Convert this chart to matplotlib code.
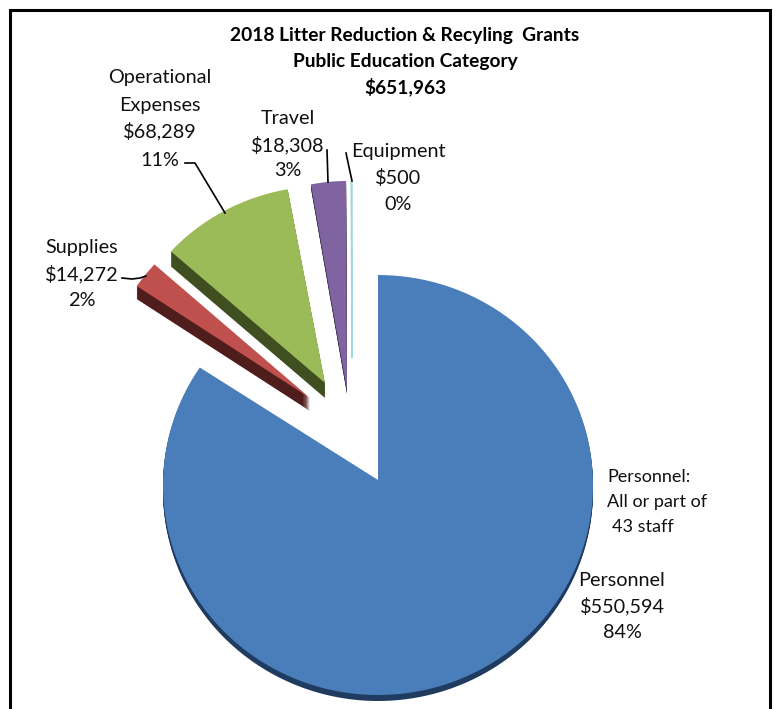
import numpy as np
import matplotlib
matplotlib.use('Agg')
import matplotlib.pyplot as plt

plt.rcParams['font.family'] = ['Lato', 'DejaVu Sans']

categories = ['Personnel', 'Supplies', 'Operational Expenses', 'Travel', 'Equipment']
amounts = [550594, 14272, 68289, 18308, 500]

colors = ['#4a7ebb', '#c0504d', '#9bbb59', '#8064a2', '#9fd6e4']
dark = ['#1f3c60', '#4f1d1b', '#3f4f20', '#3a2d4a', '#7fb5c5']

# apex of each slice in image pixels, and its x / y radius
apex = [(378, 480), (310, 398), (325, 383), (347, 390), (352, 358)]
radius = [(215, 210), (209, 200), (207, 197), (200, 209), (177, 177)]
arc_drop = [5, 0, 0, 0, 0]
depth = [6, 13, 15, 4, 0]
edge_width = [0, 0, 0, 0, 1.0]


def slice_outline(center, rad, start, stop, drop=0, shift=0):
    t = np.radians(np.linspace(start, stop, 200))
    xs = np.r_[center[0], center[0] + rad[0] * np.sin(t)]
    ys = np.r_[center[1], center[1] + drop - rad[1] * np.cos(t)] + shift
    return xs, ys


fig = plt.figure(figsize=(7.75, 7.09), dpi=100)
ax = fig.add_axes([0, 0, 1, 1])
ax.set_xlim(0, 775)
ax.set_ylim(709, 0)
ax.axis('off')

# frame, open at the bottom
ax.plot([10, 10, 770, 770], [709, 10, 10, 709], color='black', lw=2.2,
        solid_joinstyle='miter')

edges = np.r_[0, np.cumsum(amounts)] / sum(amounts) * 360

for i in range(len(amounts)):
    # side of the slice, stacked copies going downwards
    for s in range(depth[i], 0, -1):
        xs, ys = slice_outline(apex[i], radius[i], edges[i], edges[i + 1], arc_drop[i], s)
        ax.fill(xs, ys, color=dark[i], lw=0)
    xs, ys = slice_outline(apex[i], radius[i], edges[i], edges[i + 1], arc_drop[i])
    ax.fill(xs, ys, color=colors[i], lw=edge_width[i])

# leader lines
line = dict(color='black', lw=1.2)
ax.plot([185, 195, 225], [163, 163, 213], **line)
ax.plot([327, 328], [150, 182], **line)
ax.plot([346, 352], [153, 181], **line)
ax.plot([122, 132, 140, 146], [278, 279, 278, 276], **line)

title_lines = ['2018 Litter Reduction & Recyling  Grants', 'Public Education Category', '$651,963']
for y, s in zip([35, 61, 87], title_lines):
    ax.text(405, y, s, ha='center', va='center', fontsize=13.8, fontweight='bold', color='black')


def label(x, ys, lines):
    for y, s in zip(ys, lines):
        ax.text(x, y, s, ha='center', va='center', fontsize=14.3, color='#111111')


label(160, [78, 105, 131, 161], ['Operational', 'Expenses', '$68,289', '11%'])
label(288, [118, 145, 171], ['Travel', '$18,308', '3%'])
label(398, [152, 178, 204], ['Equipment', '$500', '0%'])
label(82, [248, 274, 300], ['Supplies', '$14,272', '2%'])
label(622, [580, 606, 632], ['Personnel', '$550,594', '84%'])

note = [(607, 477, 'Personnel:'), (607, 502, 'All or part of'), (612, 527, '43 staff')]
for x, y, s in note:
    ax.text(x, y, s, ha='left', va='center', fontsize=13, color='#111111')

fig.savefig('out.png', dpi=100)
